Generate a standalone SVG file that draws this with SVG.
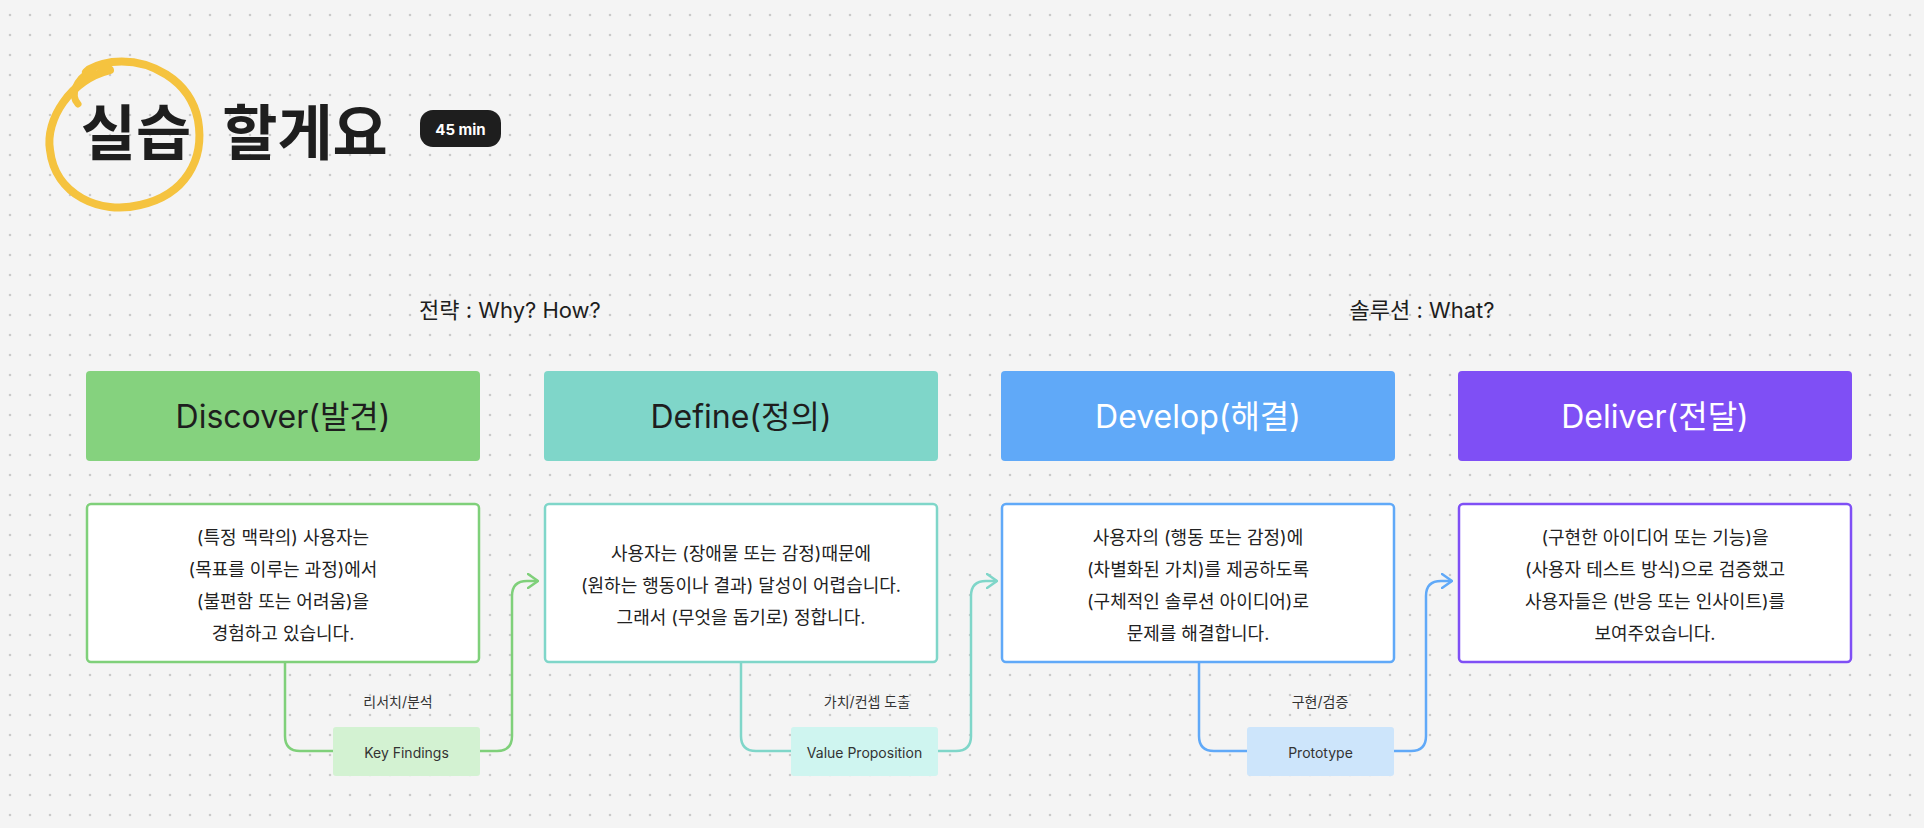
<svg xmlns="http://www.w3.org/2000/svg" width="1924" height="828" viewBox="0 0 1924 828">
<defs>
<pattern id="dots" x="0" y="5" width="20" height="20" patternUnits="userSpaceOnUse"><circle cx="10" cy="10" r="1.3" fill="#c9c9c9"/></pattern>
<marker id="ag" viewBox="0 0 12 16" refX="11" refY="8" markerWidth="12" markerHeight="16" markerUnits="userSpaceOnUse" orient="auto"><path d="M1 1 L11 8 L1 15" fill="none" stroke="#7fd07a" stroke-width="2.5" stroke-linecap="round" stroke-linejoin="round"/></marker>
<marker id="at" viewBox="0 0 12 16" refX="11" refY="8" markerWidth="12" markerHeight="16" markerUnits="userSpaceOnUse" orient="auto"><path d="M1 1 L11 8 L1 15" fill="none" stroke="#7fd6c9" stroke-width="2.5" stroke-linecap="round" stroke-linejoin="round"/></marker>
<marker id="ab" viewBox="0 0 12 16" refX="11" refY="8" markerWidth="12" markerHeight="16" markerUnits="userSpaceOnUse" orient="auto"><path d="M1 1 L11 8 L1 15" fill="none" stroke="#60a9f8" stroke-width="2.5" stroke-linecap="round" stroke-linejoin="round"/></marker>
</defs>
<style>
text{font-family:"Inter","Noto Sans CJK KR",sans-serif;}
.h{font-size:32px;text-anchor:middle;dominant-baseline:central;}
.b{font-size:18px;fill:#222;text-anchor:middle;dominant-baseline:central;}
.s{font-size:14px;fill:#333;text-anchor:middle;dominant-baseline:central;}
.sec{font-size:22px;fill:#1e1e1e;}
.box{fill:#fff;stroke-width:2.5;}
.c{fill:none;stroke-width:2.5;}
</style>
<rect width="1924" height="828" fill="#f4f4f4"/>
<rect width="1924" height="828" fill="url(#dots)"/>

<g id="title">
<path d="M110 70 C70 80 45 120 50 150 C55 195 100 215 140 205 C185 195 205 160 198 120 C190 80 150 58 112 62 C100 64 90 68 86 72" fill="none" stroke="#f5c33f" stroke-width="8" stroke-linecap="round"/>
<path d="M78 104 C70 95 75 80 92 70" fill="none" stroke="#f5c33f" stroke-width="7" stroke-linecap="round"/>
<text x="136" y="155" font-size="60" font-weight="700" fill="#1e1e1e" text-anchor="middle">실습</text>
<text x="305" y="155" font-size="60" font-weight="700" fill="#1e1e1e" text-anchor="middle">할게요</text>
</g>
<g id="badge">
<rect x="420" y="110" width="81" height="37" rx="13" fill="#1e1e1e"/>
<text x="460.5" y="129" font-size="15" font-weight="700" fill="#fff" text-anchor="middle" dominant-baseline="central">45 min</text>
</g>

<text class="sec" x="510" y="310" text-anchor="middle" dominant-baseline="central">전략 : Why? How?</text>
<text class="sec" x="1422" y="310" text-anchor="middle" dominant-baseline="central">솔루션 : What?</text>

<g id="connectors">
<path class="c" stroke="#7fd07a" d="M285 663 V736 Q285 751 300 751 H333 M480 751 H497 Q512 751 512 736 V596 Q512 581 527 581 H538" marker-end="url(#ag)"/>
<path class="c" stroke="#7fd6c9" d="M741 663 V736 Q741 751 756 751 H791 M938 751 H956 Q971 751 971 736 V596 Q971 581 986 581 H997" marker-end="url(#at)"/>
<path class="c" stroke="#60a9f8" d="M1199 663 V736 Q1199 751 1214 751 H1247 M1394 751 H1411 Q1426 751 1426 736 V596 Q1426 581 1441 581 H1452" marker-end="url(#ab)"/>
</g>

<g id="discover">
<rect x="86" y="371" width="394" height="90" rx="4" fill="#85d27e"/>
<text class="h" x="283" y="416" fill="#1e1e1e">Discover(발견)</text>
</g>
<g id="discover-text">
<rect class="box" x="87" y="504" width="392" height="158" rx="4" stroke="#7fd07a"/>
<text class="b" x="283" y="537">(특정 맥락의) 사용자는</text>
<text class="b" x="283" y="569">(목표를 이루는 과정)에서</text>
<text class="b" x="283" y="601">(불편함 또는 어려움)을</text>
<text class="b" x="283" y="633">경험하고 있습니다.</text>
</g>
<g id="define">
<rect x="544" y="371" width="394" height="90" rx="4" fill="#7fd6c9"/>
<text class="h" x="741" y="416" fill="#1e1e1e">Define(정의)</text>
</g>
<g id="define-text">
<rect class="box" x="545" y="504" width="392" height="158" rx="4" stroke="#7fd6c9"/>
<text class="b" x="741" y="553">사용자는 (장애물 또는 감정)때문에</text>
<text class="b" x="741" y="585">(원하는 행동이나 결과) 달성이 어렵습니다.</text>
<text class="b" x="741" y="617">그래서 (무엇을 돕기로) 정합니다.</text>
</g>
<g id="develop">
<rect x="1001" y="371" width="394" height="90" rx="4" fill="#60a9f8"/>
<text class="h" x="1198" y="416" fill="#fff">Develop(해결)</text>
</g>
<g id="develop-text">
<rect class="box" x="1002" y="504" width="392" height="158" rx="4" stroke="#60a9f8"/>
<text class="b" x="1198" y="537">사용자의 (행동 또는 감정)에</text>
<text class="b" x="1198" y="569">(차별화된 가치)를 제공하도록</text>
<text class="b" x="1198" y="601">(구체적인 솔루션 아이디어)로</text>
<text class="b" x="1198" y="633">문제를 해결합니다.</text>
</g>
<g id="deliver">
<rect x="1458" y="371" width="394" height="90" rx="4" fill="#7f4ff5"/>
<text class="h" x="1655" y="416" fill="#fff">Deliver(전달)</text>
</g>
<g id="deliver-text">
<rect class="box" x="1459" y="504" width="392" height="158" rx="4" stroke="#7f4ff5"/>
<text class="b" x="1655" y="537">(구현한 아이디어 또는 기능)을</text>
<text class="b" x="1655" y="569">(사용자 테스트 방식)으로 검증했고</text>
<text class="b" x="1655" y="601">사용자들은 (반응 또는 인사이트)를</text>
<text class="b" x="1655" y="633">보여주었습니다.</text>
</g>

<g id="key-findings">
<text class="s" x="398" y="701">리서치/분석</text>
<rect x="333" y="727" width="147" height="49" rx="3" fill="#d3f2d2"/>
<text class="s" x="406.5" y="752" fill="#1e1e1e">Key Findings</text>
</g>
<g id="value-proposition">
<text class="s" x="867" y="701">가치/컨셉 도출</text>
<rect x="791" y="727" width="147" height="49" rx="3" fill="#cff5f0"/>
<text class="s" x="864.5" y="752" fill="#1e1e1e">Value Proposition</text>
</g>
<g id="prototype">
<text class="s" x="1320" y="701">구현/검증</text>
<rect x="1247" y="727" width="147" height="49" rx="3" fill="#cde5fb"/>
<text class="s" x="1320.5" y="752" fill="#1e1e1e">Prototype</text>
</g>
</svg>
